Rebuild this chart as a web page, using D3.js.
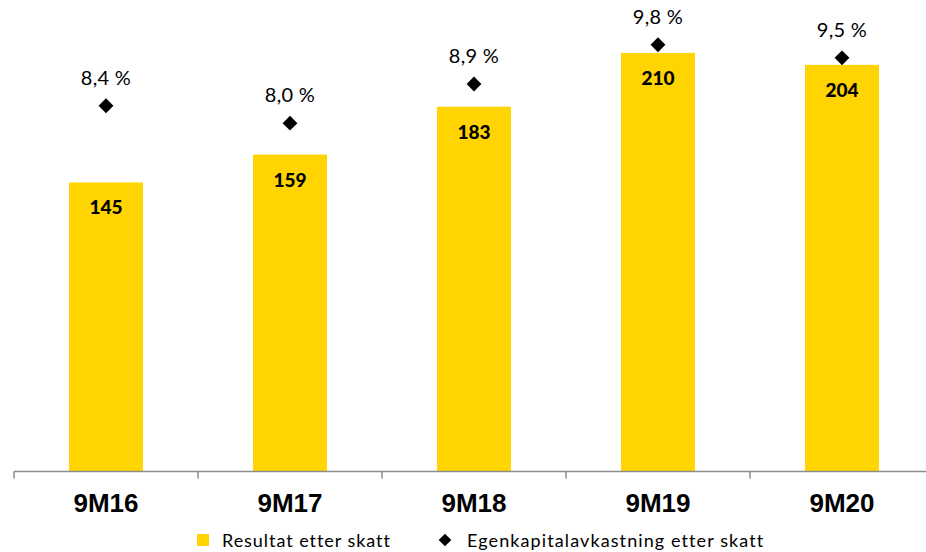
<!DOCTYPE html>
<html>
<head>
<meta charset="utf-8">
<script src="https://cdn.jsdelivr.net/npm/d3@7"></script>
<style>
  html, body { margin: 0; padding: 0; background: #fff; }
  svg { display: block; }
</style>
</head>
<body>
<svg id="chart" width="926" height="552"></svg>
<script>
const categories = ["9M16", "9M17", "9M18", "9M19", "9M20"];
const resultat = [145, 159, 183, 210, 204];
const egenkapital = [8.4, 8.0, 8.9, 9.8, 9.5];
const egenkapitalLabels = ["8,4 %", "8,0 %", "8,9 %", "9,8 %", "9,5 %"];
const legendLabels = ["Resultat etter skatt", "Egenkapitalavkastning etter skatt"];

const W = 926, H = 552;
const baseY = 471.5, topY = 23;
const svg = d3.select("#chart");

const x = d3.scaleBand().domain(categories).range([14, 934]).padding(0);
const xBar = d3.scaleBand().domain(categories).range([14, 934]).paddingInner(0.598).paddingOuter(0.299);
const y = d3.scaleLinear().domain([0, 225]).range([baseY, topY]);
const y2 = d3.scaleLinear().domain([0, 10.3]).range([baseY, topY]);

const yellow = "#FFD400";

// bars
svg.append("g").selectAll("rect").data(categories).join("rect")
  .attr("x", d => xBar(d))
  .attr("width", xBar.bandwidth())
  .attr("y", (d, i) => y(resultat[i]))
  .attr("height", (d, i) => y(0) - y(resultat[i]))
  .attr("fill", yellow);

// bar labels
svg.append("g").selectAll("text").data(categories).join("text")
  .attr("x", d => x(d) + x.bandwidth() / 2)
  .attr("y", (d, i) => y(resultat[i]) + 32)
  .attr("text-anchor", "middle")
  .attr("font-family", "Lato, 'Open Sans', sans-serif")
  .attr("font-weight", "900")
  .attr("font-size", 19)
  .attr("fill", "#000")
  .text((d, i) => resultat[i]);

// axis
const axis = d3.axisBottom(x).tickSize(0).tickFormat("");
const gAxis = svg.append("g").attr("transform", `translate(0,${baseY})`).call(axis);
gAxis.select(".domain").attr("stroke", "#8c8c8c").attr("stroke-width", 1.5).attr("d", `M14,0H${W}`);
const boundaries = categories.map(d => x(d)).concat([x(categories[categories.length-1]) + x.bandwidth()]);
gAxis.selectAll(".bound").data(boundaries).join("line")
  .attr("class", "bound")
  .attr("x1", d => d).attr("x2", d => d)
  .attr("y1", 0).attr("y2", 7)
  .attr("stroke", "#8c8c8c").attr("stroke-width", 1.5);

// category labels
svg.append("g").selectAll("text").data(categories).join("text")
  .attr("x", d => x(d) + x.bandwidth() / 2)
  .attr("y", 512)
  .attr("text-anchor", "middle")
  .attr("font-family", "'Liberation Sans', Arial, sans-serif")
  .attr("font-weight", "bold")
  .attr("font-size", 26)
  .attr("fill", "#000")
  .text(d => d);

// diamonds
const diamond = d3.symbol().type(d3.symbolSquare).size(110);
svg.append("g").selectAll("path").data(categories).join("path")
  .attr("d", diamond)
  .attr("transform", (d, i) => `translate(${x(d) + x.bandwidth() / 2},${y2(egenkapital[i])}) rotate(45)`)
  .attr("fill", "#000");

// percent labels
svg.append("g").selectAll("text").data(categories).join("text")
  .attr("x", d => x(d) + x.bandwidth() / 2)
  .attr("y", (d, i) => y2(egenkapital[i]) - 21)
  .attr("text-anchor", "middle")
  .attr("font-family", "Lato, 'Open Sans', sans-serif")
  .attr("font-size", 20)
  .attr("letter-spacing", 0.3)
  .attr("fill", "#000")
  .text((d, i) => egenkapitalLabels[i]);

// legend
const lg = svg.append("g");
lg.append("rect").attr("x", 197).attr("y", 534).attr("width", 12).attr("height", 12).attr("fill", yellow);
lg.append("text").attr("x", 222).attr("y", 547)
  .attr("font-family", "Lato, 'Open Sans', sans-serif").attr("font-size", 18)
  .attr("letter-spacing", 0.95).attr("fill", "#000")
  .text(legendLabels[0]);
lg.append("path").attr("d", d3.symbol().type(d3.symbolSquare).size(80))
  .attr("transform", "translate(445,540) rotate(45)").attr("fill", "#000");
lg.append("text").attr("x", 467).attr("y", 547)
  .attr("font-family", "Lato, 'Open Sans', sans-serif").attr("font-size", 18)
  .attr("letter-spacing", 1.1).attr("fill", "#000")
  .text(legendLabels[1]);
</script>
</body>
</html>
